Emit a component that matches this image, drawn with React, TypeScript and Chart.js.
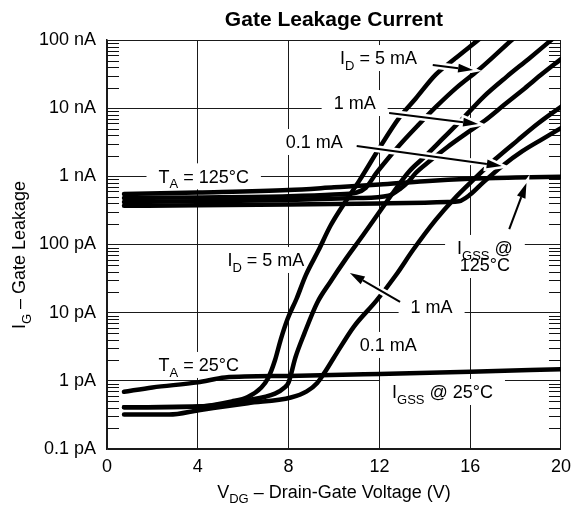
import React, { useEffect, useRef } from 'react';
import { Chart, registerables } from 'chart.js';

Chart.register(...registerables);

const FONT = '"Liberation Sans", Arial, Helvetica, sans-serif';

// axis ticks
const X_TICKS = [0, 4, 8, 12, 16, 20];
const Y_TICKS = [1e-13, 1e-12, 1e-11, 1e-10, 1e-9, 1e-8, 1e-7];
const Y_TICK_LABELS = ['0.1 pA', '1 pA', '10 pA', '100 pA', '1 nA', '10 nA', '100 nA'];

// TA = 125 °C curves (V, A)
const IGSS125_V = [0.75, 4, 8, 10, 12, 14, 16, 18, 20];
const IGSS125_I = [0.55e-9, 0.58e-9, 0.63e-9, 0.69e-9, 0.76e-9, 0.85e-9, 0.92e-9, 0.96e-9, 0.99e-9];

const ID5_125_V = [0.75, 4, 8, 10, 11.0, 11.4, 11.87, 12.4, 13.0, 13.7, 14.5, 15.4, 16.35, 17.1, 17.83, 18.4];
const ID5_125_I = [0.48e-9, 0.49e-9, 0.51e-9, 0.54e-9, 0.58e-9, 0.68e-9, 1.12e-9, 1.86e-9, 3.16e-9, 5.6e-9, 10.5e-9, 20e-9, 36e-9, 60e-9, 100e-9, 145e-9];

const ID1_125_V = [0.75, 4, 8, 11, 12.4, 12.9, 13.3, 13.6, 14.2, 15.0, 15.8, 16.65, 17.5, 18.4, 19.2, 20];
const ID1_125_I = [0.42e-9, 0.43e-9, 0.45e-9, 0.48e-9, 0.52e-9, 0.65e-9, 0.85e-9, 1.12e-9, 1.66e-9, 2.7e-9, 4.2e-9, 6.6e-9, 11.2e-9, 19.5e-9, 32.4e-9, 52.5e-9];

const ID01_125_V = [0.75, 4, 8, 12, 14, 15.0, 15.5, 16.0, 16.6, 17.4, 18.3, 19.2, 20];
const ID01_125_I = [0.37e-9, 0.375e-9, 0.385e-9, 0.4e-9, 0.41e-9, 0.42e-9, 0.43e-9, 0.54e-9, 0.83e-9, 1.41e-9, 2.34e-9, 3.55e-9, 5.1e-9];

// TA = 25 °C curves (V, A)
const IGSS25_V = [0.75, 2, 4, 5.2, 8, 12, 16, 20];
const IGSS25_I = [0.69e-12, 0.8e-12, 0.95e-12, 1.12e-12, 1.18e-12, 1.26e-12, 1.36e-12, 1.48e-12];

const ID5_25_V = [0.75, 4, 5.5, 6.2, 6.8, 7.1, 7.4, 7.65, 7.95, 8.35, 8.75, 9.3, 9.85, 10.45, 11.13, 12.0, 12.87, 13.61, 14.48, 15.35, 16.35, 17.0];
const ID5_25_I = [0.41e-12, 0.42e-12, 0.5e-12, 0.58e-12, 0.8e-12, 1.1e-12, 2.0e-12, 4.0e-12, 8e-12, 16e-12, 35e-12, 80e-12, 0.19e-9, 0.4e-9, 0.88e-9, 2.6e-9, 7.2e-9, 14e-9, 31e-9, 54e-9, 100e-9, 150e-9];

const ID1_25_V = [0.75, 4, 6.2, 7.4, 7.83, 8.0, 8.3, 8.7, 9.26, 9.83, 10.5, 11.3, 12.0, 12.6, 13.3, 14.0, 14.8, 15.7, 16.6, 17.6, 18.6, 19.57, 20.2];
const ID1_25_I = [0.41e-12, 0.42e-12, 0.52e-12, 0.65e-12, 0.8e-12, 0.95e-12, 2.2e-12, 5e-12, 14e-12, 28e-12, 60e-12, 0.14e-9, 0.3e-9, 0.575e-9, 1.17e-9, 1.95e-9, 3.6e-9, 7.2e-9, 14.8e-9, 28.8e-9, 53.7e-9, 100e-9, 150e-9];

const ID01_25_V = [0.75, 2.74, 4.04, 6.2, 8.1, 8.8, 9.26, 9.57, 10.0, 10.87, 11.87, 12.74, 13.48, 14.48, 15.3, 16.2, 17.1, 18.1, 19.0, 20];
const ID01_25_I = [0.32e-12, 0.32e-12, 0.37e-12, 0.47e-12, 0.57e-12, 0.7e-12, 0.93e-12, 1.3e-12, 2.2e-12, 6.2e-12, 15e-12, 36e-12, 83e-12, 0.23e-9, 0.47e-9, 0.93e-9, 1.78e-9, 3.4e-9, 6.0e-9, 10.5e-9];

const CURVES = [
  ['IGSS @ 125°C', IGSS125_V, IGSS125_I],
  ['ID = 5 mA, 125°C', ID5_125_V, ID5_125_I],
  ['ID = 1 mA, 125°C', ID1_125_V, ID1_125_I],
  ['ID = 0.1 mA, 125°C', ID01_125_V, ID01_125_I],
  ['IGSS @ 25°C', IGSS25_V, IGSS25_I],
  ['ID = 5 mA, 25°C', ID5_25_V, ID5_25_I],
  ['ID = 1 mA, 25°C', ID1_25_V, ID1_25_I],
  ['ID = 0.1 mA, 25°C', ID01_25_V, ID01_25_I],
] as const;

// text annotations: text (with _{sub}), V, A
const LABEL_TEXT = ['T_{A} = 125°C', 'I_{D} = 5 mA', '1 mA', '0.1 mA', 'I_{D} = 5 mA', '1 mA', '0.1 mA', 'T_{A} = 25°C', 'I_{GSS} @ 25°C', 'I_{GSS} @', '125°C'];
const LABEL_V = [4.26, 11.96, 10.91, 9.13, 7.0, 14.3, 12.39, 4.04, 14.78, 16.65, 16.65];
const LABEL_I = [1e-9, 5.44e-8, 1.19e-8, 3.19e-9, 5.93e-11, 1.25e-11, 3.36e-12, 1.71e-12, 6.86e-13, 8.9e-11, 5.0e-11];

// arrows: from (V, A) to (V, A)
const ARROW_FROM_V = [14.35, 12.43, 11.0, 17.72, 12.91];
const ARROW_FROM_I = [4.3e-8, 8.49e-9, 2.79e-9, 1.68e-10, 1.44e-11];
const ARROW_TO_V = [16.13, 16.35, 17.39, 18.48, 10.7];
const ARROW_TO_I = [3.63e-8, 5.86e-9, 1.42e-9, 7.98e-10, 3.82e-11];

function parseParts(s: string) {
  const out: { t: string; sub: boolean }[] = [];
  const re = /_\{([^}]*)\}/g;
  let last = 0;
  let m: RegExpExecArray | null;
  while ((m = re.exec(s))) {
    if (m.index > last) out.push({ t: s.slice(last, m.index), sub: false });
    out.push({ t: m[1], sub: true });
    last = m.index + m[0].length;
  }
  if (last < s.length) out.push({ t: s.slice(last), sub: false });
  return out;
}

function richWidth(ctx: CanvasRenderingContext2D, s: string, size: number, bold = false) {
  const main = `${bold ? 'bold ' : ''}${size}px ${FONT}`;
  const subF = `${Math.round(size * 0.72)}px ${FONT}`;
  let w = 0;
  for (const p of parseParts(s)) {
    ctx.font = p.sub ? subF : main;
    w += ctx.measureText(p.t).width;
  }
  return w;
}

function drawRich(ctx: CanvasRenderingContext2D, s: string, cx: number, cy: number, size: number, bold = false) {
  const parts = parseParts(s);
  const main = `${bold ? 'bold ' : ''}${size}px ${FONT}`;
  const subF = `${Math.round(size * 0.72)}px ${FONT}`;
  const w = richWidth(ctx, s, size, bold);
  let x = cx - w / 2;
  ctx.fillStyle = '#000';
  ctx.textAlign = 'left';
  ctx.textBaseline = 'alphabetic';
  const base = cy + size * 0.358;
  for (const p of parts) {
    ctx.font = p.sub ? subF : main;
    ctx.fillText(p.t, x, base + (p.sub ? size * 0.3 : 0));
    x += ctx.measureText(p.t).width;
  }
}

const annotPlugin = {
  id: 'annot',
  beforeDatasetsDraw(chart: any) {
    const { ctx, chartArea, scales } = chart;
    const xs = scales.x;
    const ys = scales.y;
    ctx.save();
    // minor log ticks on the inside of left and right frame
    ctx.strokeStyle = '#111';
    ctx.lineWidth = 1.2;
    ctx.beginPath();
    for (let e = -13; e < -7; e++) {
      for (let k = 2; k <= 9; k++) {
        const py = Math.round(ys.getPixelForValue(k * Math.pow(10, e))) + 0.5;
        ctx.moveTo(chartArea.left, py);
        ctx.lineTo(chartArea.left + 12, py);
        ctx.moveTo(chartArea.right - 12, py);
        ctx.lineTo(chartArea.right, py);
      }
    }
    ctx.stroke();
    // white label backgrounds first (they break the grid lines), then the texts
    const padX = 12;
    const boxH = 26;
    ctx.fillStyle = '#fff';
    LABEL_TEXT.forEach((t, i) => {
      const cx = xs.getPixelForValue(LABEL_V[i]);
      const cy = ys.getPixelForValue(LABEL_I[i]);
      const w = richWidth(ctx, t, 18);
      ctx.fillStyle = '#fff';
      ctx.fillRect(cx - w / 2 - padX, cy - boxH / 2, w + 2 * padX, boxH);
    });
    LABEL_TEXT.forEach((t, i) => {
      const cx = xs.getPixelForValue(LABEL_V[i]);
      const cy = ys.getPixelForValue(LABEL_I[i]);
      drawRich(ctx, t, cx, cy, 18);
    });
    ctx.restore();
  },
  afterDatasetsDraw(chart: any) {
    const { ctx, scales } = chart;
    const xs = scales.x;
    const ys = scales.y;
    ctx.save();
    const L = 15;
    const W = 4.5;
    const geo = ARROW_FROM_V.map((_, i) => {
      const x1 = xs.getPixelForValue(ARROW_FROM_V[i]);
      const y1 = ys.getPixelForValue(ARROW_FROM_I[i]);
      const x2 = xs.getPixelForValue(ARROW_TO_V[i]);
      const y2 = ys.getPixelForValue(ARROW_TO_I[i]);
      const a = Math.atan2(y2 - y1, x2 - x1);
      const bx = x2 - L * Math.cos(a);
      const by = y2 - L * Math.sin(a);
      const nx = -Math.sin(a) * W;
      const ny = Math.cos(a) * W;
      return { x1, y1, x2, y2, bx, by, nx, ny };
    });
    const tri = (g: any) => {
      ctx.beginPath();
      ctx.moveTo(g.x2, g.y2);
      ctx.lineTo(g.bx + g.nx, g.by + g.ny);
      ctx.lineTo(g.bx - g.nx, g.by - g.ny);
      ctx.closePath();
    };
    // white halos
    ctx.strokeStyle = '#fff';
    ctx.fillStyle = '#fff';
    ctx.lineCap = 'butt';
    geo.forEach((g) => {
      ctx.lineWidth = 7;
      ctx.beginPath();
      ctx.moveTo(g.x1, g.y1);
      ctx.lineTo(g.bx, g.by);
      ctx.stroke();
      tri(g);
      ctx.lineWidth = 5;
      ctx.stroke();
      ctx.fill();
    });
    // black arrows
    ctx.strokeStyle = '#000';
    ctx.fillStyle = '#000';
    geo.forEach((g) => {
      ctx.lineWidth = 2;
      ctx.beginPath();
      ctx.moveTo(g.x1, g.y1);
      ctx.lineTo(g.bx, g.by);
      ctx.stroke();
      tri(g);
      ctx.fill();
    });
    ctx.restore();
  },
  afterDraw(chart: any) {
    const { ctx, chartArea } = chart;
    ctx.save();
    const cx = (chartArea.left + chartArea.right) / 2;
    // title
    ctx.font = `bold 21px ${FONT}`;
    ctx.fillStyle = '#000';
    ctx.textAlign = 'center';
    ctx.textBaseline = 'alphabetic';
    ctx.fillText('Gate Leakage Current', cx, 26);
    // x axis title
    drawRich(ctx, 'V_{DG} – Drain-Gate Voltage (V)', cx, 491.5, 18);
    // y axis title
    ctx.translate(19, 255);
    ctx.rotate(-Math.PI / 2);
    drawRich(ctx, 'I_{G} – Gate Leakage', 0, 0, 18);
    ctx.restore();
  },
};

export default function App() {
  const ref = useRef<HTMLCanvasElement>(null);
  useEffect(() => {
    if (!ref.current) return;
    Chart.defaults.font.family = FONT;
    Chart.defaults.color = '#000';
    const datasets = CURVES.map(([label, vs, is]) => ({
      label,
      data: (vs as readonly number[]).map((v, i) => ({ x: v, y: (is as readonly number[])[i] })),
      borderColor: '#000',
      backgroundColor: '#000',
      borderWidth: 4.5,
      pointRadius: 0,
      pointHoverRadius: 0,
      fill: false,
      cubicInterpolationMode: 'monotone' as const,
      borderCapStyle: 'round' as const,
      borderJoinStyle: 'round' as const,
      clip: 0,
    }));
    const chart = new Chart(ref.current, {
      type: 'line',
      data: { datasets },
      options: {
        responsive: false,
        animation: false,
        devicePixelRatio: 1,
        events: [],
        layout: { padding: { top: 40, right: 11, left: 0, bottom: 0 } },
        plugins: {
          legend: { display: false },
          title: { display: false },
          tooltip: { enabled: false },
        },
        scales: {
          x: {
            type: 'linear',
            min: 0,
            max: 20,
            afterBuildTicks: (s: any) => {
              s.ticks = X_TICKS.map((value) => ({ value }));
            },
            afterFit: (s: any) => {
              s.height = 59;
            },
            ticks: {
              autoSkip: false,
              maxRotation: 0,
              padding: 7,
              font: { size: 18, family: FONT },
              color: '#000',
            },
            grid: { color: '#1a1a1a', lineWidth: 1, drawTicks: false },
            border: { display: true, color: '#1a1a1a', width: 1.5 },
          },
          y: {
            type: 'logarithmic',
            min: 1e-13,
            max: 1e-7,
            afterBuildTicks: (s: any) => {
              s.ticks = Y_TICKS.map((value) => ({ value }));
            },
            afterFit: (s: any) => {
              s.width = 107;
            },
            ticks: {
              autoSkip: false,
              padding: 11,
              font: { size: 18, family: FONT },
              color: '#000',
              callback: (v: any) => {
                const idx = Y_TICKS.findIndex((t) => Math.abs(Math.log10(t) - Math.log10(Number(v))) < 0.01);
                return idx >= 0 ? Y_TICK_LABELS[idx] : '';
              },
            },
            grid: { color: '#1a1a1a', lineWidth: 1, drawTicks: false },
            border: { display: true, color: '#1a1a1a', width: 1.5 },
          },
        },
      },
      plugins: [annotPlugin],
    } as any);
    return () => chart.destroy();
  }, []);
  return (
    <div style={{ position: 'fixed', left: 0, top: 0, width: 578, height: 508, background: '#fff' }}>
      <canvas ref={ref} width={578} height={508} style={{ display: 'block', width: 578, height: 508 }} />
    </div>
  );
}
